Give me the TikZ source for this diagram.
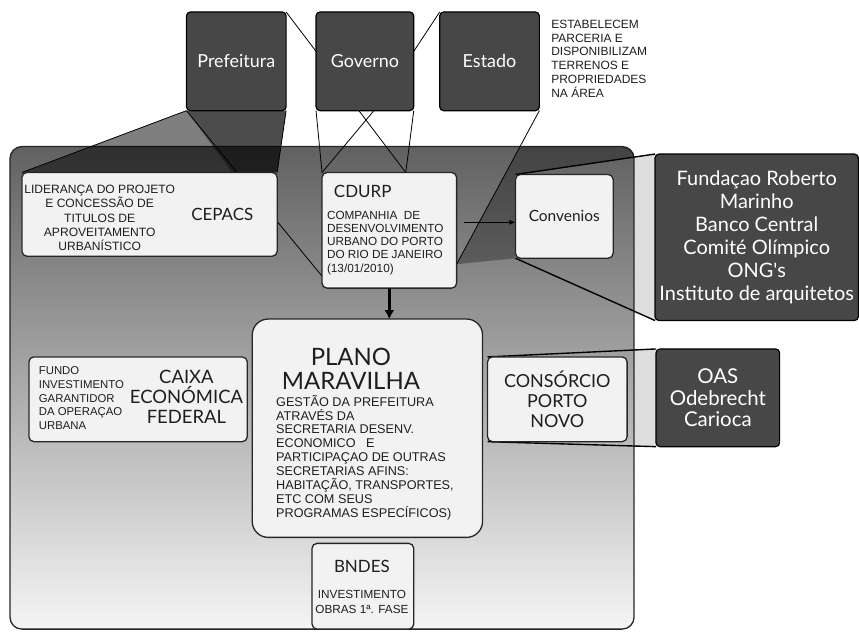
\documentclass[tikz,border=0pt]{standalone}
\usepackage{fontspec}
\setmainfont{Liberation Sans}
\newfontfamily\gill{Lato}
\usepackage{tikz}
\usetikzlibrary{arrows.meta, positioning}
\definecolor{boxdark}{HTML}{474747}
\definecolor{boxlight}{HTML}{F2F2F2}
\definecolor{inktext}{HTML}{1E1E1E}
\pgfdeclarelayer{bg}
\pgfdeclarelayer{mid}
\pgfsetlayers{bg,mid,main}

\begin{document}
\begin{tikzpicture}[x=1pt, y=-1pt,
  every node/.style={inner sep=0pt, outer sep=0pt},
  darkbox/.style={draw=black, line width=1.2pt, fill=boxdark, rounded corners=4pt, text=white, align=center, font=\gill\fontsize{18}{23}\selectfont},
  litebox/.style={draw=black!85, line width=1.3pt, fill=boxlight, rounded corners=5pt},
  headtext/.style={text=inktext, align=center, font=\gill\fontsize{17}{20}\selectfont},
  bodytext/.style={text=inktext, align=left, font=\fontsize{12}{13.8}\selectfont},
  projline/.style={draw=black, line width=0.8pt}]

  % top row
  \node[darkbox, minimum width=100pt, minimum height=99pt] (pref) at (237,61.5) {Prefeitura};
  \node[darkbox, minimum width=98pt, minimum height=99pt] (gov) at (366,61.5) {Governo};
  \node[darkbox, minimum width=100pt, minimum height=99pt] (est) at (491,61.5) {Estado};
  \node[bodytext, anchor=north west] (note) at (553,20) {ESTABELECEM\\PARCERIA E\\DISPONIBILIZAM\\TERRENOS E\\PROPRIEDADES\\NA ÁREA};

  % upper row inside the area
  \node[litebox, minimum width=256pt, minimum height=84pt] (cepacs) at (150,215) {};
  \node[bodytext, align=center, font=\fontsize{12.1}{14.2}\selectfont] (cepacsinfo) at (100,218.5) {LIDERANÇA DO PROJETO\\E CONCESSÃO DE\\TITULOS DE\\APROVEITAMENTO\\URBANÍSTICO};
  \node[headtext] (cepacsname) at (223,215) {CEPACS};

  \node[litebox, minimum width=135pt, minimum height=116pt] (cdurp) at (390.5,231) {};
  \node[headtext, anchor=west] (cdurpname) at (335,192) {CDURP};
  \node[bodytext, anchor=west, font=\fontsize{11.8}{13.3}\selectfont] (cdurpinfo) at (328,243.5) {COMPANHIA\ \ DE\\DESENVOLVIMENTO\\URBANO DO PORTO\\DO RIO DE JANEIRO\\(13/01/2010)};

  \node[litebox, headtext, minimum width=98pt, minimum height=84pt, font=\gill\fontsize{15.5}{18}\selectfont] (conv) at (566,217) {Convenios};
  \node[darkbox, minimum width=204pt, minimum height=167pt, font=\gill\fontsize{20}{23}\selectfont] (fund) at (759,238) {Fundaçao Roberto\\Marinho\\Banco Central\\Comité Olímpico\\ONG's\\Instituto de arquitetos};

  % middle row
  \node[litebox, minimum width=219pt, minimum height=85pt] (caixa) at (138.5,400.5) {};
  \node[bodytext, anchor=west, font=\fontsize{11.4}{13.75}\selectfont] (caixainfo) at (39,399.5) {FUNDO\\INVESTIMENTO\\GARANTIDOR\\DA OPERAÇAO\\URBANA};
  \node[headtext, font=\gill\fontsize{18.5}{20}\selectfont] (caixaname) at (187,398) {CAIXA\\ECONÓMICA\\FEDERAL};

  \node[litebox, rounded corners=16pt, minimum width=231pt, minimum height=219pt] (plano) at (368.5,429.5) {};
  \node[headtext, font=\gill\fontsize{24}{24}\selectfont] (planoname) at (352,370) {PLANO\\MARAVILHA};
  \node[bodytext, anchor=west, font=\fontsize{12.7}{14}\selectfont] (planoinfo) at (277,459) {GESTÃO DA PREFEITURA\\ATRAVÉS DA\\SECRETARIA DESENV.\\ECONOMICO\ \ \ E\\PARTICIPAÇAO DE OUTRAS\\SECRETARIAS AFINS:\\HABITAÇÃO, TRANSPORTES,\\ETC COM SEUS\\PROGRAMAS ESPECÍFICOS)};

  \node[litebox, headtext, minimum width=140pt, minimum height=85pt, font=\gill\fontsize{18}{20}\selectfont] (cons) at (559,400.5) {CONSÓRCIO\\PORTO\\NOVO};
  \node[darkbox, minimum width=124pt, minimum height=98pt, font=\gill\fontsize{20.5}{21.5}\selectfont] (oas) at (720,399) {OAS\\Odebrecht\\Carioca};

  % bottom
  \node[litebox, minimum width=102pt, minimum height=86pt] (bndes) at (364,588) {};
  \node[headtext] (bndesname) at (363,568) {BNDES};
  \node[bodytext, align=center, font=\fontsize{11.8}{15}\selectfont] (bndesinfo) at (363,603.5) {INVESTIMENTO\\OBRAS 1ª. FASE};

  % arrows
  \coordinate (convin) at ([yshift=-6pt]conv.west);
  \draw[-{Latex[length=6pt,width=5pt]}, line width=0.9pt, shorten <=7pt] (cdurp.east |- convin) -- (convin);
  \draw[-{Latex[length=9pt,width=10pt]}, line width=2.6pt] (cdurp.south) -- (cdurp.south |- plano.north);

  \begin{pgfonlayer}{bg}
    \path[use as bounding box, fill=white] (0,0) rectangle (859,633);
    \fill[black!13] (conv.north west) -- (fund.north west) -- (fund.south west) -- (conv.south west) -- cycle;
    \fill[black!13] (cons.north west) -- (oas.north west) -- (oas.south west) -- (cons.south west) -- cycle;
    \node[draw=black!85, line width=1.3pt, rounded corners=12pt, top color=black!62, middle color=black!38, bottom color=black!4, minimum width=626pt, minimum height=484pt] (area) at (323,389) {};
  \end{pgfonlayer}

  \begin{pgfonlayer}{mid}
    \coordinate (pcut) at (233,173);
    \fill[black, opacity=0.5] (pref.south west) -- (cepacs.north west) -- (pcut) -- cycle;
    \fill[black, opacity=0.7] (pref.south west) -- (pref.south east) -- (cepacs.north east) -- (pcut) -- cycle;
    \begin{scope}
      \clip[rounded corners=12pt] (area.north west) rectangle (area.south east);
      \fill[black, opacity=0.3] (est.south east) -- ([yshift=-34pt]cdurp.east) -- (conv.south west) -- (conv.north west) -- (fund.north west) -- (fund.north east) -- cycle;
    \end{scope}
    \draw[projline] (pref.north east) -- ([yshift=10pt]gov.west);
    \draw[projline] (est.north west) -- ([yshift=10pt]gov.east);
    \draw[projline] (pref.south west) -- (cepacs.north west);
    \draw[projline] (pref.south west) -- ([yshift=-46pt]cdurp.west);
    \draw[projline] (pref.south east) -- (cepacs.north east);
    \draw[projline] (gov.south west) -- (cdurp.north west);
    \draw[projline] ([xshift=9pt]gov.south) -- (cdurp.north west);
    \draw[projline] ([xshift=-6pt]gov.south) -- ([xshift=16.5pt]cdurp.north);
    \draw[projline] (gov.south east) -- ([xshift=16.5pt]cdurp.north);
    \draw[projline] (est.south east) -- ([yshift=-34pt]cdurp.east);
    \draw[projline, line width=1.4pt] (conv.north west) -- (fund.north west);
    \draw[projline, line width=1.4pt] (conv.south west) -- (fund.south west);
    \draw[projline, line width=1.4pt] (cons.north west) -- (oas.north west);
    \draw[projline, line width=1.4pt] (cons.south west) -- (oas.south west);
  \end{pgfonlayer}
\end{tikzpicture}
\end{document}
